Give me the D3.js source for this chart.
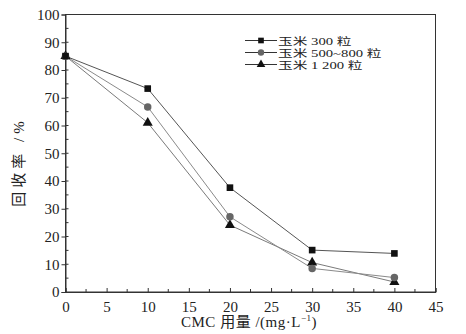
<!DOCTYPE html>
<html>
<head>
<meta charset="utf-8">
<script src="https://cdn.jsdelivr.net/npm/d3@7"></script>
<style>
  body { margin: 0; background: #fff; }
  text { font-family: "Liberation Serif", "Noto Sans CJK SC", serif; fill: #222; }
</style>
</head>
<body>
<div id="chart-area"></div>
<script>
// CMC dosage vs recovery, three corn particle groups
let dosage = [0, 10, 20, 30, 40];
let seriesNames = ["玉米 300 粒", "玉米 500~800 粒", "玉米 1 200 粒"];
let corn300 = [85, 73.3, 37.6, 15.1, 13.9];
let corn500 = [85, 66.7, 27.1, 8.5, 5.2];
let corn1200 = [85, 61, 24.1, 10.6, 3.6];
let xTicks = [0, 5, 10, 15, 20, 25, 30, 35, 40, 45];
let yTicks = [0, 10, 20, 30, 40, 50, 60, 70, 80, 90, 100];

// drawn bottom to top so the squares sit on top at x = 0
let series = [
    { name: seriesNames[2], values: corn1200, symbol: d3.symbolTriangle, fill: "#111", line: "#7a7a7a", size: 44 },
    { name: seriesNames[1], values: corn500, symbol: d3.symbolCircle, fill: "#666", line: "#8a8a8a", size: 44 },
    { name: seriesNames[0], values: corn300, symbol: d3.symbolSquare, fill: "#111", line: "#555", size: 44 }
];

let margin = { top: 14.5, right: 30.5, bottom: 42, left: 65.5 };
let width = 466 - margin.left - margin.right,
    height = 334 - margin.top - margin.bottom;

let svg = d3.select("#chart-area").append("svg")
    .attr("width", 466)
    .attr("height", 334)
    .append("g")
    .attr("transform", "translate(" + margin.left + "," + margin.top + ")");

let x = d3.scaleLinear().domain([0, 45]).range([0, width]);
let y = d3.scaleLinear().domain([0, 100]).range([height, 0]);

// frame
svg.append("rect")
    .attr("width", width)
    .attr("height", height)
    .attr("fill", "none")
    .attr("stroke", "#333")
    .attr("stroke-width", 1);

// x axis: ticks point inward
let xAxis = d3.axisBottom(x).tickValues(xTicks).tickSize(-4).tickPadding(9);
svg.append("g")
    .attr("class", "x-axis")
    .attr("transform", "translate(0," + height + ")")
    .call(xAxis);
let xMinor = d3.range(2.5, 45, 5);
svg.append("g")
    .attr("transform", "translate(0," + height + ")")
    .selectAll("line").data(xMinor).enter().append("line")
    .attr("x1", d => x(d)).attr("x2", d => x(d))
    .attr("y1", 0).attr("y2", -3)
    .attr("stroke", "#333");

// y axis: major ticks outside, minor inside
let yAxis = d3.axisLeft(y).tickValues(yTicks).tickSize(4).tickPadding(2);
svg.append("g")
    .attr("class", "y-axis")
    .call(yAxis);
let yMinor = d3.range(5, 100, 5);
svg.append("g")
    .selectAll("line").data(yMinor).enter().append("line")
    .attr("x1", 0).attr("x2", 3)
    .attr("y1", d => y(d)).attr("y2", d => y(d))
    .attr("stroke", "#333");

svg.selectAll(".x-axis path, .y-axis path").attr("stroke", "#333");
svg.selectAll(".x-axis line, .y-axis line").attr("stroke", "#333");
svg.selectAll(".x-axis text, .y-axis text")
    .style("font-size", "15px")
    .style("font-family", "'Liberation Serif', serif")
    .attr("fill", "#222");

// lines
let line = d3.line()
    .x((d, i) => x(dosage[i]))
    .y(d => y(d));

series.forEach(function (s) {
    svg.append("path")
        .datum(s.values)
        .attr("fill", "none")
        .attr("stroke", s.line)
        .attr("stroke-width", 1)
        .attr("d", line);
});

series.forEach(function (s) {
    svg.selectAll(null)
        .data(s.values)
        .enter().append("path")
        .attr("transform", (d, i) => "translate(" + x(dosage[i]) + "," + y(d) + ")")
        .attr("d", d3.symbol().type(s.symbol).size(s.size))
        .attr("fill", s.fill);
});

// legend
let legendRows = [series[2], series[1], series[0]];
let legend = svg.append("g")
    .attr("transform", "translate(" + (245 - margin.left) + "," + (40.5 - margin.top) + ")");
legendRows.forEach(function (s, i) {
    let row = legend.append("g").attr("transform", "translate(0," + (i * 12) + ")");
    row.append("line")
        .attr("x1", 0).attr("x2", 32)
        .attr("y1", 0).attr("y2", 0)
        .attr("stroke", "#333");
    row.append("path")
        .attr("transform", "translate(16,0)")
        .attr("d", d3.symbol().type(s.symbol).size(32))
        .attr("fill", s.fill);
    // the source text is wide and squat, so stretch it sideways
    row.append("text")
        .attr("transform", "translate(33,4) scale(1.4,1)")
        .style("font-size", "10.5px")
        .text(s.name);
});

// axis titles
svg.append("text")
    .attr("transform", "translate(" + (24 - margin.left) + "," + (162 - margin.top) + ") rotate(-90)")
    .attr("text-anchor", "middle")
    .style("font-size", "15px")
    .style("letter-spacing", "4px")
    .text("回收率 /%");

let xTitle = svg.append("text")
    .attr("x", 249 - margin.left)
    .attr("y", 327 - margin.top)
    .attr("text-anchor", "middle")
    .style("font-size", "15px")
    .style("letter-spacing", "0.5px");
xTitle.append("tspan").text("CMC 用量 /(mg·L");
xTitle.append("tspan").attr("dy", -6).style("font-size", "9px").text("−1");
xTitle.append("tspan").attr("dy", 6).text(")");
</script>
</body>
</html>
